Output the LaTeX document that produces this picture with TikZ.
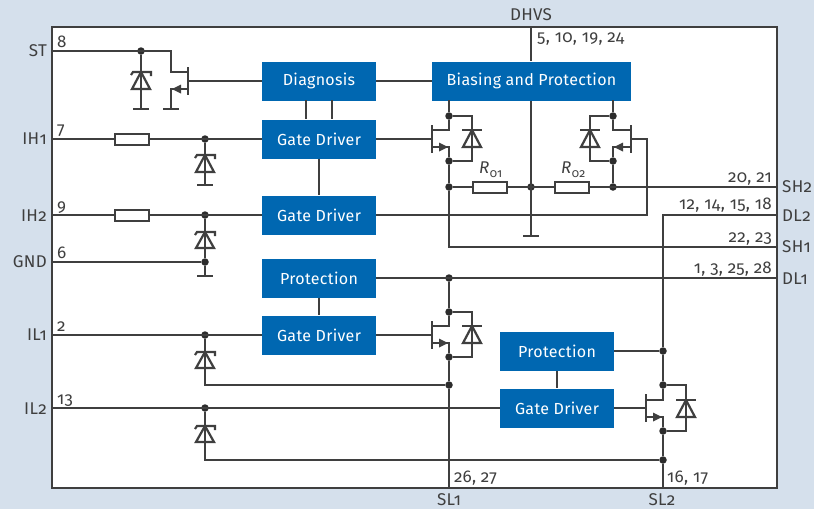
\documentclass[tikz,border=0pt]{standalone}
\usepackage{fontspec}
\setmainfont[Numbers=OldStyle,LetterSpace=2]{Fira Sans}
\usetikzlibrary{calc}
\definecolor{bgc}{HTML}{D5E0EC}
\definecolor{boxc}{HTML}{0067B1}
\definecolor{linec}{HTML}{3F3F3F}
\tikzset{
  wire/.style={draw=linec,line width=1.5pt},
  barline/.style={draw=linec,line width=2.2pt},
  bluebox/.style={fill=boxc,draw=none,text=white,minimum width=114pt,minimum height=39pt,inner sep=0pt,font=\fontsize{16}{16}\selectfont},
  resbox/.style={draw=linec,fill=white,line width=2pt,minimum width=34pt,minimum height=11pt,inner sep=0pt},
  jn/.style={circle,fill=linec!70!black,draw=none,minimum size=7.5pt,inner sep=0pt},
  lab/.style={text=linec,inner sep=0pt,font=\fontsize{17}{17}\selectfont},
  pin/.style={text=linec,inner sep=0pt,font=\fontsize{17}{17}\selectfont},
}
% zener: x, cathode y, base y
\newcommand{\zenerA}[3]{%
  \draw[barline,line join=miter] (#1-9,#3) -- (#1+9,#3) -- (#1,#2) -- cycle;
  \draw[barline] (#1-10,#2+3) -- (#1-8,#2) -- (#1+10,#2) -- (#1+10,#2+4);
}
\newcommand{\zenerB}[3]{%
  \draw[barline,line join=miter] (#1-9,#3) -- (#1+9,#3) -- (#1,#2) -- cycle;
  \draw[barline] (#1-10,#2) -- (#1+10,#2);
}
\newcommand{\gnd}[2]{\draw[barline] (#1-8,#2) -- (#1+8,#2);}
\begin{document}
\begin{tikzpicture}[x=1pt,y=-1pt]
\useasboundingbox (0,0) rectangle (814,509);
\fill[bgc] (0,0) rectangle (814,509);
\draw[draw=linec,line width=1.7pt,fill=white] (52,27) rectangle (777,488);

% boxes
\node[bluebox] (diag) at (319,81) {Diagnosis};
\node[bluebox,minimum width=199pt] (bias) at (531.5,81) {Biasing and Protection};
\node[bluebox] (gd1) at (319,139) {Gate Driver};
\node[bluebox] (gd2) at (319,215) {Gate Driver};
\node[bluebox] (prot1) at (319,278) {Protection};
\node[bluebox] (gd3) at (319,335) {Gate Driver};
\node[bluebox] (prot2) at (557,351) {Protection};
\node[bluebox] (gd4) at (557,408) {Gate Driver};

% frame pins
\coordinate (pST) at (52,51);
\coordinate (pIH1) at (52,139);
\coordinate (pIH2) at (52,215);
\coordinate (pGND) at (52,262);
\coordinate (pIL1) at (52,335);
\coordinate (pIL2) at (52,408);
\coordinate (pDHVS) at (531,27);
\coordinate (pSH2) at (777,187);
\coordinate (pDL2) at (777,215);
\coordinate (pSH1) at (777,247);
\coordinate (pDL1) at (777,278);
\coordinate (pSL1) at (449,488);
\coordinate (pSL2) at (663,488);

% box-to-box
\draw[wire] (306,100) -- (306,119);
\draw[wire] (332,100) -- (332,119);
\draw[wire] (gd1.south) -- (gd2.north);
\draw[wire] (prot1.south) -- (gd3.north);
\draw[wire] (prot2.south) -- (gd4.north);
\draw[wire] (diag.east) -- (bias.west);

% junctions
\node[jn] (jST) at (141,51) {};
\node[jn] (jIH1) at (205,139) {};
\node[jn] (jIH2) at (205,215) {};
\node[jn] (jGND) at (205,262) {};
\node[jn] (jIL1) at (205,335) {};
\node[jn] (jIL2) at (205,408) {};
\node[jn] (jAd) at (449,116) {};
\node[jn] (jAs) at (449,161) {};
\node[jn] (jAr) at (449,187) {};
\node[jn] (jM) at (531,187) {};
\node[jn] (jBd) at (613,116) {};
\node[jn] (jBs) at (613,161) {};
\node[jn] (jBr) at (613,187) {};
\node[jn] (jCt) at (449,278) {};
\node[jn] (jCd) at (449,312) {};
\node[jn] (jCs) at (449,357) {};
\node[jn] (jCb) at (449,385) {};
\node[jn] (jDp) at (663,351) {};
\node[jn] (jDd) at (663,385) {};
\node[jn] (jDs) at (663,431) {};
\node[jn] (jDb) at (663,460) {};

% resistors
\node[resbox] (r1) at (131.5,139) {};
\node[resbox] (r2) at (131.5,215) {};
\node[resbox] (r01) at (489.5,187) {};
\node[resbox] (r02) at (572,187) {};

% input lines
\draw[wire] (pIH1) -- (r1.west);
\draw[wire] (r1.east) -- (gd1.west);
\draw[wire] (pIH2) -- (r2.west);
\draw[wire] (r2.east) -- (gd2.west);
\draw[wire] (pGND) -- (jGND);
\draw[wire] (pIL1) -- (gd3.west);
\draw[wire] (pIL2) -- (gd4.west);

% ST section
\draw[wire] (pST) -- (171,51) -- (171,72) -- (188,72);
\draw[wire] (jST) -- (141,109);
\zenerA{141}{72}{89}
\gnd{141}{109}
\draw[barline] (188,67) -- (188,95);
\draw[wire] (188,81) -- (diag.west);
\draw[wire] (188,89) -- (171,89) -- (171,109);
\fill[linec] (172,89) -- (181,84.5) -- (181,93.5) -- cycle;
\gnd{171}{109}

% input zeners
\draw[wire] (jIH1) -- (205,185);
\zenerA{205}{155}{172}
\gnd{205}{185}
\draw[wire] (jIH2) -- (jGND) -- (205,276);
\zenerA{205}{232}{248}
\gnd{205}{276}
\draw[wire] (jIL1) -- (205,385) -- (jCb);
\zenerA{205}{352}{368}
\draw[wire] (jIL2) -- (205,460) -- (jDb);
\zenerA{205}{426}{442}

% high side
\draw[wire] (pDHVS) -- (pDHVS |- bias.north);
\draw[wire] (pDHVS |- bias.south) -- (531,236);
\gnd{531}{236}
\draw[wire] (449,100) -- (jAd) -- (449,130) -- (432,130);
\draw[barline] (432,125) -- (432,153);
\draw[wire] (gd1.east) -- (432,139);
\draw[wire] (432,147) -- (449,147) -- (jAs) -- (jAr) -- (449,247) -- (pSH1);
\fill[linec] (448,147) -- (439,142.5) -- (439,151.5) -- cycle;
\draw[wire] (jAd) -- (472,116) -- (472,161) -- (jAs);
\zenerB{472}{130}{147}

\draw[wire] (613,100) -- (jBd) -- (613,130) -- (631,130);
\draw[barline] (631,125) -- (631,153);
\draw[wire] (631,139) -- (647,139) -- (647,215) -- (gd2.east);
\draw[wire] (631,147) -- (613,147) -- (jBs) -- (jBr);
\fill[linec] (614,147) -- (623,142.5) -- (623,151.5) -- cycle;
\draw[wire] (jBd) -- (590,116) -- (590,161) -- (jBs);
\zenerB{590}{130}{147}

\draw[wire] (jAr) -- (r01.west);
\draw[wire] (r01.east) -- (r02.west);
\draw[wire] (r02.east) -- (pSH2);

% DL2 and protections
\draw[wire] (pDL2) -- (663,215) -- (jDp) -- (jDd) -- (663,400) -- (646,400);
\draw[wire] (prot2.east) -- (jDp);
\draw[barline] (646,394) -- (646,422);
\draw[wire] (gd4.east) -- (646,408);
\draw[wire] (646,417) -- (663,417) -- (jDs) -- (jDb) -- (pSL2);
\fill[linec] (662,417) -- (653,412.5) -- (653,421.5) -- cycle;
\draw[wire] (jDd) -- (686,385) -- (686,431) -- (jDs);
\zenerB{686}{400}{417}

\draw[wire] (prot1.east) -- (pDL1);
\draw[wire] (jCt) -- (jCd) -- (449,326) -- (432,326);
\draw[barline] (432,321) -- (432,349);
\draw[wire] (gd3.east) -- (432,335);
\draw[wire] (432,343) -- (449,343) -- (jCs) -- (jCb) -- (pSL1);
\fill[linec] (448,343) -- (439,338.5) -- (439,347.5) -- cycle;
\draw[wire] (jCd) -- (472,312) -- (472,357) -- (jCs);
\zenerB{472}{326}{343}

% labels
\node[lab,anchor=east] (tST) at (47,51) {ST};
\node[lab,anchor=east] (tIH1) at (47,138.5) {IH1};
\node[lab,anchor=east] (tIH2) at (47,215.5) {IH2};
\node[lab,anchor=east] (tGND) at (47,262) {GND};
\node[lab,anchor=east] (tIL1) at (47,335) {IL1};
\node[lab,anchor=east] (tIL2) at (47,409) {IL2};
\node[lab] (tDHVS) at (531,15) {DHVS};
\node[lab,anchor=west] (tSH2) at (782,187) {SH2};
\node[lab,anchor=west] (tDL2) at (782,215.5) {DL2};
\node[lab,anchor=west] (tSH1) at (782,246.5) {SH1};
\node[lab,anchor=west] (tDL1) at (782,278.5) {DL1};
\node[lab] (tSL1) at (449,499.5) {SL1};
\node[lab] (tSL2) at (662,499.5) {SL2};

\node[pin,anchor=base west] (n8) at (57,47) {8};
\node[pin,anchor=base west] (n7) at (57,134) {7};
\node[pin,anchor=base west] (n9) at (57,211) {9};
\node[pin,anchor=base west] (n6) at (57,258) {6};
\node[pin,anchor=base west] (n2) at (57,331) {2};
\node[pin,anchor=base west] (n13) at (57,404) {13};
\node[pin,anchor=base west] (nV) at (537,42) {5, 10, 19, 24};
\node[pin,anchor=base east] (n20) at (772,182) {20, 21};
\node[pin,anchor=base east] (n12) at (772,209) {12, 14, 15, 18};
\node[pin,anchor=base east] (n22) at (772,242) {22, 23};
\node[pin,anchor=base east] (n1) at (772,273) {1, 3, 25, 28};
\node[pin,anchor=base west] (n26) at (454,482) {26, 27};
\node[pin,anchor=base west] (n16) at (667,482) {16, 17};

\node[lab,anchor=base west] (tR1) at (479,173) {\itshape R\kern0.5pt\raisebox{-4pt}{\fontsize{12}{12}\selectfont\upshape 01}};
\node[lab,anchor=base west] (tR2) at (561,173) {\itshape R\kern0.5pt\raisebox{-4pt}{\fontsize{12}{12}\selectfont\upshape 02}};
\end{tikzpicture}
\end{document}
